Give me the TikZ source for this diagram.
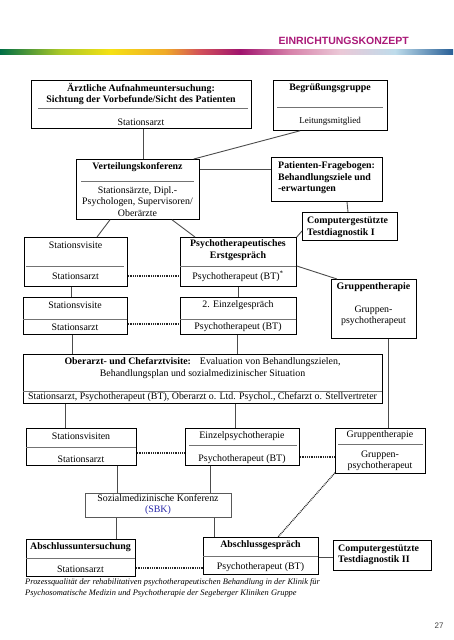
\documentclass[tikz,border=0pt]{standalone}
\usepackage{fontspec}
\setmainfont{Liberation Serif}
\newfontfamily\hdfont{Liberation Sans}
\definecolor{hdmag}{RGB}{170,25,120}
\definecolor{sbkblue}{RGB}{40,40,170}
\definecolor{gA}{RGB}{0,110,70}
\definecolor{gB}{RGB}{170,200,40}
\definecolor{gC}{RGB}{245,225,20}
\definecolor{gD}{RGB}{240,170,40}
\definecolor{gE}{RGB}{210,80,90}
\definecolor{gF}{RGB}{160,20,110}
\definecolor{gG}{RGB}{215,130,170}
\definecolor{gH}{RGB}{235,200,215}
\definecolor{gI}{RGB}{190,220,235}
\definecolor{gJ}{RGB}{40,95,150}
\newcommand\mkbox[6][]{\node[box,#1,minimum width={#5pt-#3pt},minimum height={#6pt-#4pt}] (#2) at (#3,#4) {};}
\begin{document}
\begin{tikzpicture}[x=1pt,y=-1pt,
  box/.style={draw=black,line width=0.8pt,inner sep=0pt,anchor=north west},
  sep/.style={draw=black!55,line width=0.8pt},
  conn/.style={draw=black!70,line width=0.9pt},
  dots/.style={draw=black!85,line width=1.3pt,dash pattern=on 0.9pt off 0.9pt},
  txt/.style={inner sep=0pt,align=center,font=\fontsize{9.9}{11.5}\selectfont},
  txtb/.style={inner sep=0pt,align=center,font=\fontsize{9.9}{11.5}\selectfont\bfseries},
  txtl/.style={inner sep=0pt,align=left,anchor=west,font=\fontsize{9.9}{11.5}\selectfont\bfseries},
  small/.style={inner sep=0pt,align=center,font=\fontsize{9}{11}\selectfont}]
\useasboundingbox (0,0) rectangle (453,640);
% header
\node[anchor=east,inner sep=0pt,text=hdmag,font=\hdfont\fontsize{10.5}{12}\selectfont\bfseries] (hdr) at (409,40.5) {EINRICHTUNGSKONZEPT};
\fill[left color=gA,right color=gB] (0,49) rectangle (60,54);
\fill[left color=gB,right color=gC] (60,49) rectangle (110,54);
\fill[left color=gC,right color=gD] (110,49) rectangle (165,54);
\fill[left color=gD,right color=gE] (165,49) rectangle (200,54);
\fill[left color=gE,right color=gF] (200,49) rectangle (240,54);
\fill[left color=gF,right color=gG] (240,49) rectangle (290,54);
\fill[left color=gG,right color=gH] (290,49) rectangle (340,54);
\fill[left color=gH,right color=gI] (340,49) rectangle (395,54);
\fill[left color=gI,right color=gJ] (395,49) rectangle (453,54);

% boxes
\mkbox{A}{31}{80}{251}{128}
\mkbox{B}{273}{80}{387}{130}
\mkbox{VK}{76}{159}{199}{219}
\mkbox{PF}{271}{157}{382}{201}
\mkbox{CTa}{302}{212}{397}{240}
\mkbox{SVa}{24}{237}{127}{286}
\mkbox{PE}{180}{237}{296}{286}
\mkbox{GTa}{331}{279}{416}{338}
\mkbox{SVb}{23}{297}{127}{334}
\mkbox{EG}{180}{297}{296}{334}
\mkbox{OA}{23}{354}{382}{403}
\mkbox{SVc}{26}{428}{136}{465}
\mkbox{EP}{185}{428}{299}{465}
\mkbox{GTb}{335}{428}{425}{473}
\mkbox[draw=black!65]{SM}{85}{493}{231}{517}
\mkbox{AU}{26}{539}{135}{576}
\mkbox{AG}{203}{537}{318}{574}
\mkbox{CTb}{333}{540}{431}{570}

% inner separators
\draw[sep] (38,108) -- (248,108);
\draw[sep] (277,107) -- (383,107);
\draw[sep] (81,181) -- (194,181);
\draw[sep] (26,266) -- (124,266);
\draw[sep] (180,266) -- (296,266);
\draw[sep] (23,319) -- (127,319);
\draw[sep] (180,319) -- (296,319);
\draw[sep] (23,391) -- (382,391);
\draw[sep] (26,447) -- (136,447);
\draw[sep] (189,445) -- (297,445);
\draw[sep] (338,444) -- (423,444);
\draw[sep] (26,558) -- (135,558);
\draw[sep] (203,556) -- (318,556);

% texts
\node[txtb] (At) at (141,94) {Ärztliche Aufnahmeuntersuchung:\\Sichtung der Vorbefunde/Sicht des Patienten};
\node[txt] (Ab) at (141,122) {Stationsarzt};
\node[txtb] (Bt) at (330,88.5) {Begrüßungsgruppe};
\node[small] (Bb) at (330,121) {Leitungsmitglied};
\node[txtb] (VKt) at (137.5,167) {Verteilungskonferenz};
\node[txt] (VKb) at (137.5,201.5) {Stationsärzte, Dipl.-\\Psychologen, Supervisoren/\\Oberärzte};
\node[txtl] (PFt) at (278,178) {Patienten-Fragebogen:\\Behandlungsziele und\\-erwartungen};
\node[txtl] (CTat) at (307,227.5) {Computergestützte\\Testdiagnostik I};
\node[txt] (SVat) at (75.5,245) {Stationsvisite};
\node[txt] (SVab) at (75.5,276) {Stationsarzt};
\node[txtb] (PEt) at (238,250) {Psychotherapeutisches\\Erstgespräch};
\node[txt] (PEb) at (238,276) {Psychotherapeut (BT)\textsuperscript{*}};
\node[txtb] (GTat) at (373.5,287.5) {Gruppentherapie};
\node[txt] (GTab) at (373.5,316) {Gruppen-\\psychotherapeut};
\node[txt] (SVbt) at (75,305) {Stationsvisite};
\node[txt] (SVbb) at (75,327) {Stationsarzt};
\node[txt] (EGt) at (238,305) {2. Einzelgespräch};
\node[txt] (EGb) at (238,327) {Psychotherapeut (BT)};
\node[txt] (OAt) at (202.5,368) {\textbf{Oberarzt- und Chefarztvisite:}\hspace{9pt}Evaluation von Behandlungszielen,\\Behandlungsplan und sozialmedizinischer Situation};
\node[txt] (OAb) at (202.5,397.5) {Stationsarzt, Psychotherapeut (BT), Oberarzt o. Ltd. Psychol., Chefarzt o. Stellvertreter};
\node[txt] (SVct) at (81,436.5) {Stationsvisiten};
\node[txt] (SVcb) at (81,459) {Stationsarzt};
\node[txt] (EPt) at (242,436.5) {Einzelpsychotherapie};
\node[txt] (EPb) at (242,459) {Psychotherapeut (BT)};
\node[txt] (GTbt) at (380,435.5) {Gruppentherapie};
\node[txt] (GTbb) at (380,461) {Gruppen-\\psychotherapeut};
\node[txt] (SMt) at (158,504.5) {Sozialmedizinische Konferenz\\\textcolor{sbkblue}{(SBK)}};
\node[txtb] (AUt) at (80.5,547.5) {Abschlussuntersuchung};
\node[txt] (AUb) at (80.5,569.5) {Stationsarzt};
\node[txtb] (AGt) at (260.5,545.5) {Abschlussgespräch};
\node[txt] (AGb) at (260.5,567.5) {Psychotherapeut (BT)};
\node[txtl] (CTbt) at (338,555) {Computergestützte\\Testdiagnostik II};
\node[inner sep=0pt,anchor=north west,align=left,font=\fontsize{8.4}{11}\selectfont\itshape] (cap) at (25,578.5) {Prozessqualität der rehabilitativen psychotherapeutischen Behandlung in der Klinik für\\Psychosomatische Medizin und Psychotherapie der Segeberger Kliniken Gruppe};
\node[inner sep=0pt,text=black!75,font=\hdfont\fontsize{8}{10}\selectfont] (pg) at (439,626) {27};

% connectors
\draw[conn] ([xshift=112pt]A.south west) -- ([xshift=67pt]VK.north west);
\draw[conn] ([xshift=27pt]B.south west) -- ([xshift=-6pt]VK.north east);
\coordinate (v1) at ([yshift=-10pt]VK.north east);
\draw[conn] (v1) -- (v1 -| PF.west);
\draw[conn] ([xshift=76pt]PF.south west) -- ([xshift=46pt]CTa.north west);
\draw[conn] ([yshift=-19pt]CTa.north west) -- (PE.north east);
\draw[conn] ([xshift=34pt]VK.south west) -- ([xshift=73pt]SVa.north west);
\draw[conn] ([xshift=96pt]VK.south west) -- ([xshift=15pt]PE.north west);
\coordinate (p1) at ([yshift=-29pt]PE.north east);
\draw[conn] (p1) -- ([xshift=6pt]GTa.north west);
\coordinate (d1) at ([yshift=-39pt]SVa.north east);
\draw[dots] (d1) -- (d1 -| PE.west);
\draw[conn] ([xshift=47pt]SVa.south west) -- ([xshift=48pt]SVb.north west);
\draw[conn] ([xshift=58pt]PE.south west) -- ([xshift=58pt]EG.north west);
\coordinate (d2) at ([yshift=-27pt]SVb.north east);
\draw[dots] (d2) -- (d2 -| EG.west);
\draw[conn] ([xshift=49pt]SVb.south west) -- ([xshift=49pt]OA.north west);
\draw[conn] ([xshift=57pt]EG.south west) -- ([xshift=214pt]OA.north west);
\draw[conn] ([xshift=57pt]GTa.south west) -- ([xshift=53pt]GTb.north west);
\draw[conn] ([xshift=42pt]OA.south west) -- ([xshift=39pt]SVc.north west);
\draw[conn] ([xshift=212pt]OA.south west) -- ([xshift=50pt]EP.north west);
\coordinate (d3) at ([yshift=-25pt]SVc.north east);
\draw[dots] (d3) -- (d3 -| EP.west);
\coordinate (d4) at ([yshift=-29pt]EP.north east);
\draw[dots] (d4) -- (d4 -| GTb.west);
\draw[conn] ([xshift=91pt]SVc.south west) -- ([xshift=32pt]SM.north west);
\draw[conn] ([xshift=25pt]EP.south west) -- ([xshift=125pt]SM.north west);
\draw[dots] ([yshift=1pt]GTb.south west) -- ([xshift=75pt]AG.north west);
\draw[conn] ([xshift=31pt]SM.south west) -- ([xshift=90pt]AU.north west);
\draw[conn] ([xshift=129pt]SM.south west) -- ([xshift=11pt]AG.north west);
\coordinate (d5) at ([yshift=-29pt]AU.north east);
\draw[dots] (d5) -- (d5 -| AG.west);
\coordinate (c2) at ([yshift=-20pt]AG.north east);
\draw[conn] (c2) -- (c2 -| CTb.west);
\end{tikzpicture}
\end{document}
